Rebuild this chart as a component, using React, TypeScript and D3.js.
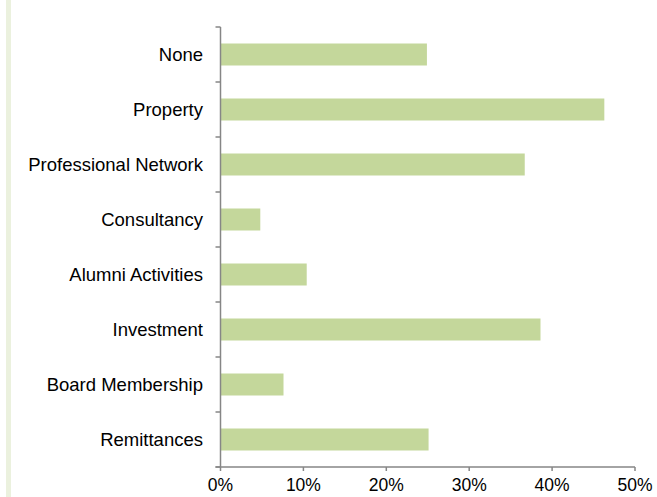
import React from "react";
import * as d3 from "d3";

const categories = [
  "None",
  "Property",
  "Professional Network",
  "Consultancy",
  "Alumni Activities",
  "Investment",
  "Board Membership",
  "Remittances",
];
const values = [24.9, 46.3, 36.7, 4.8, 10.4, 38.6, 7.6, 25.1];
const xTicks = [0, 10, 20, 30, 40, 50];

const W = 657;
const H = 497;
const left = 220.5;
const right = 635;
const top = 27;
const bottom = 467;

export default function App() {
  const x = d3.scaleLinear().domain([0, 50]).range([left, right]);
  const y = d3
    .scaleBand<string>()
    .domain(categories)
    .range([top, bottom])
    .paddingInner(0.6)
    .paddingOuter(0.3);
  const step = y.step();
  const gap = (step - y.bandwidth()) / 2;
  const boundaries = categories.map((c) => (y(c) as number) - gap);
  boundaries.push(bottom);
  const axisColor = "#868686";
  const font = "'Liberation Sans', Arial, sans-serif";

  return (
    <svg
      width={W}
      height={H}
      style={{ position: "absolute", left: 0, top: 0, background: "#fff" }}
    >
      <rect x={6} y={0} width={5} height={H} fill="#ebf1de" />
      {categories.map((c, i) => (
        <rect
          key={c}
          x={x(0)}
          y={y(c)}
          width={x(values[i]) - x(0)}
          height={y.bandwidth()}
          fill="#c4d79b"
        />
      ))}
      <line x1={left} x2={left} y1={top} y2={bottom} stroke={axisColor} strokeWidth={1.5} />
      {boundaries.map((b, i) => (
        <line key={i} x1={left - 5} x2={left} y1={b} y2={b} stroke={axisColor} strokeWidth={1.5} />
      ))}
      <line x1={left - 5} x2={right} y1={bottom} y2={bottom} stroke={axisColor} strokeWidth={1.5} />
      {xTicks.map((t) => (
        <g key={t}>
          <line x1={x(t)} x2={x(t)} y1={bottom} y2={bottom + 4} stroke={axisColor} strokeWidth={1.5} />
          <text
            x={x(t)}
            y={491}
            textAnchor="middle"
            fontFamily={font}
            fontSize={17.5}
            fill="#000"
          >
            {t + "%"}
          </text>
        </g>
      ))}
      {categories.map((c) => (
        <text
          key={c}
          x={203}
          y={(y(c) as number) + y.bandwidth() / 2}
          dy="0.35em"
          textAnchor="end"
          fontFamily={font}
          fontSize={18.5}
          fill="#000"
        >
          {c}
        </text>
      ))}
    </svg>
  );
}
